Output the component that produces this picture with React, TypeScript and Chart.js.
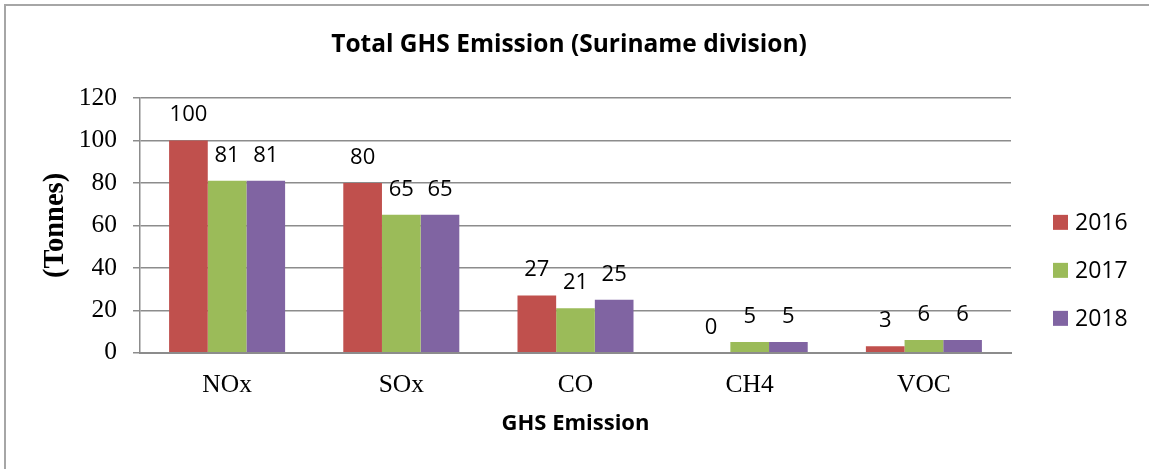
import React, { useEffect, useRef } from "react";
import { Chart, registerables, layouts } from "chart.js";

Chart.register(...registerables);

const chartTitle = "Total GHS Emission (Suriname division)";
const xAxisTitle = "GHS Emission";
const yAxisTitle = "(Tonnes)";
const categories = ["NOx", "SOx", "CO", "CH4", "VOC"];
const seriesLabels = ["2016", "2017", "2018"];
const values2016 = [100, 80, 27, 0, 3];
const values2017 = [81, 65, 21, 5, 6];
const values2018 = [81, 65, 25, 5, 6];
const seriesColors = ["#C0504D", "#9BBB59", "#8064A2"];
const yTicks = [0, 20, 40, 60, 80, 100, 120];

const W = 1149;
const H = 469;
const SANS = "'Open Sans', 'DejaVu Sans', sans-serif";
const SERIF = "'Liberation Serif', 'DejaVu Serif', serif";
const GRID = "#8c8c8c";

const PAD_L = 10;
const PAD_R = 21;
const PAD_T = 10;
const LEGEND_W = 117;
const Y_AXIS_W = 130;
const X_AXIS_H = 116.3;

const dataLabels = {
  id: "dataLabels",
  afterDatasetsDraw(chart: any) {
    const ctx = chart.ctx;
    ctx.save();
    ctx.font = `22px ${SANS}`;
    ctx.fillStyle = "#000";
    ctx.textAlign = "center";
    ctx.textBaseline = "alphabetic";
    chart.data.datasets.forEach((ds: any, di: number) => {
      const meta = chart.getDatasetMeta(di);
      meta.data.forEach((el: any, i: number) => {
        ctx.fillText(String(ds.data[i]), el.x, el.y - 19);
      });
    });
    ctx.restore();
  },
};

const sideLegend = {
  id: "sideLegend",
  beforeInit(chart: any) {
    const box: any = {
      position: "right",
      weight: 1000,
      fullSize: false,
      options: {},
      left: 0,
      top: 0,
      right: 0,
      bottom: 0,
      width: 0,
      height: 0,
      isHorizontal() {
        return false;
      },
      update(maxWidth: number, maxHeight: number) {
        this.width = LEGEND_W;
        this.height = maxHeight;
      },
      getPadding() {
        return { top: 0, bottom: 0, left: 0, right: 0 };
      },
      draw() {
        const ctx = chart.ctx;
        const mid = (this.top + this.bottom) / 2 + 45;
        ctx.save();
        ctx.font = `23px ${SANS}`;
        ctx.textAlign = "left";
        ctx.textBaseline = "middle";
        chart.data.datasets.forEach((ds: any, i: number) => {
          const cy = mid + (i - 1) * 48;
          ctx.fillStyle = ds.backgroundColor;
          ctx.fillRect(this.left + 42, cy - 7.5, 15, 15);
          ctx.fillStyle = "#000";
          ctx.fillText(ds.label, this.left + 64, cy + 1);
        });
        ctx.restore();
      },
    };
    layouts.addBox(chart, box);
  },
};

export default function App() {
  const ref = useRef<HTMLCanvasElement>(null);

  useEffect(() => {
    if (!ref.current) return;
    const series = [values2016, values2017, values2018];
    const chart = new Chart(ref.current, {
      type: "bar",
      data: {
        labels: categories,
        datasets: series.map((vals, i) => ({
          label: seriesLabels[i],
          data: vals,
          backgroundColor: seriesColors[i],
          borderWidth: 0,
          categoryPercentage: 0.666,
          barPercentage: 1.0,
        })),
      },
      options: {
        responsive: false,
        animation: false,
        devicePixelRatio: 1,
        layout: { padding: { left: PAD_L, right: PAD_R, top: PAD_T, bottom: 0 } },
        plugins: {
          legend: { display: false },
          tooltip: { enabled: false },
          title: {
            display: true,
            text: chartTitle,
            color: "#000",
            font: { family: SANS, size: 24.5, weight: "bold" },
            padding: { top: 20.3, bottom: 38.3 },
          },
        },
        scales: {
          x: {
            grid: { display: false, drawTicks: false, tickLength: 0 },
            border: { display: true, color: GRID, width: 2 },
            ticks: {
              color: "#000",
              font: { family: SERIF, size: 25.5 },
              padding: 17.3,
              maxRotation: 0,
            },
            title: {
              display: true,
              text: xAxisTitle,
              color: "#000",
              font: { family: SANS, size: 22, weight: "bold" },
              padding: { top: 0, bottom: 31.8 },
            },
            afterFit(scale: any) {
              scale.height = X_AXIS_H;
            },
          },
          y: {
            min: yTicks[0],
            max: yTicks[yTicks.length - 1],
            grid: {
              color: GRID,
              lineWidth: 1.5,
              drawTicks: true,
              tickLength: 7,
              tickColor: GRID,
            },
            border: { display: true, color: GRID, width: 1.5 },
            ticks: {
              stepSize: yTicks[1] - yTicks[0],
              color: "#000",
              font: { family: SERIF, size: 25.5 },
              padding: 16,
            },
            title: {
              display: true,
              text: yAxisTitle,
              color: "#000",
              font: { family: SERIF, size: 28.5, weight: "bold" },
              padding: { top: 28.9, bottom: 0 },
            },
            afterFit(scale: any) {
              scale.width = Y_AXIS_W;
            },
          },
        },
      },
      plugins: [dataLabels, sideLegend],
    });
    return () => chart.destroy();
  }, []);

  return (
    <div
      style={{
        position: "absolute",
        left: 0,
        top: 0,
        width: W,
        height: H,
        overflow: "hidden",
        background: "#fff",
      }}
    >
      <div
        style={{
          position: "absolute",
          left: 4,
          top: 4,
          width: W + 200,
          height: H + 200,
          borderLeft: "2px solid #a6a6a6",
          borderTop: "2px solid #a6a6a6",
          boxSizing: "border-box",
        }}
      />
      <canvas
        ref={ref}
        width={W}
        height={H}
        style={{ position: "absolute", left: 0, top: 0, display: "block" }}
      />
    </div>
  );
}
